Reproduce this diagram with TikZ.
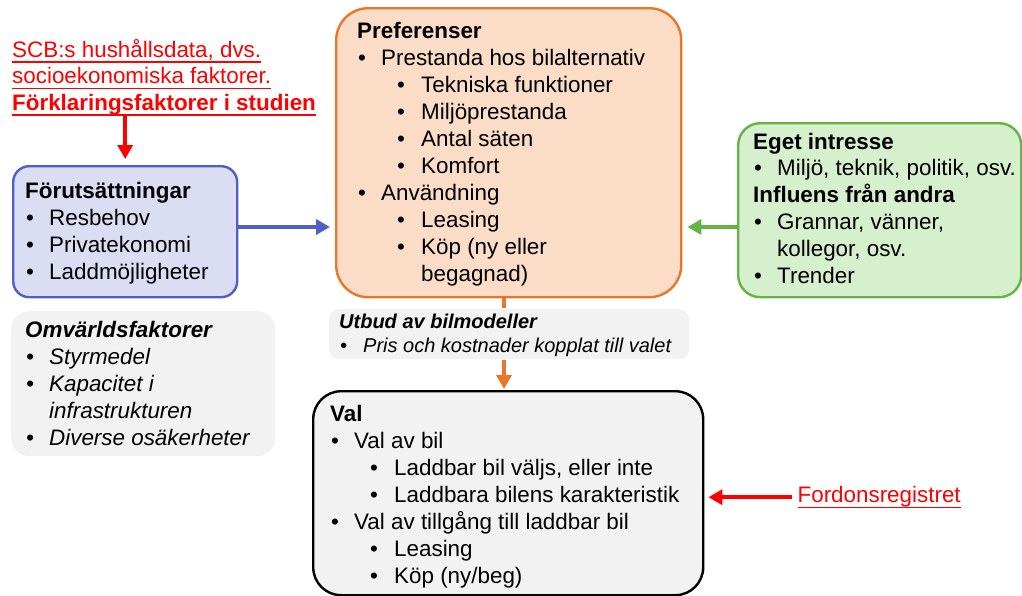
\documentclass[tikz,border=0pt]{standalone}
\usepackage{fontspec}
\setmainfont{Liberation Sans}
\usepackage{tikz}
\usetikzlibrary{arrows.meta}
\usetikzlibrary{positioning}
\definecolor{blaKant}{RGB}{80,94,200}
\definecolor{blaFyll}{RGB}{219,221,243}
\definecolor{orangeKant}{RGB}{236,118,40}
\definecolor{orangeFyll}{RGB}{250,220,199}
\definecolor{gronKant}{RGB}{98,180,68}
\definecolor{gronFyll}{RGB}{214,239,204}
\definecolor{gra}{RGB}{242,242,242}
\definecolor{rod}{RGB}{255,0,0}
% understrykning
\newsavebox{\ustrbox}
\newcommand{\ustr}[1]{\sbox{\ustrbox}{#1}\rlap{\rule[-5.5pt]{\wd\ustrbox}{1.4pt}}\usebox{\ustrbox}}
% punkter i listorna
\newcommand{\pkt}[1]{\makebox[24pt][l]{\hspace{1pt}\textbullet}#1}
\newcommand{\upkt}[1]{\hspace*{40pt}\makebox[24pt][l]{\textbullet}#1}
\tikzset{
  Ruta/.style={anchor=north west, inner sep=0pt, line width=2.4pt}, % för rutor
  Text/.style={anchor=base west, inner sep=0pt, align=left,
    font=\fontsize{22.4}{27}\selectfont}, % för texter, placerad vid sista raden
  KursivText/.style={Text, font=\fontsize{22.4}{27}\selectfont\itshape},
  LitenText/.style={Text, font=\fontsize{20}{24.5}\selectfont\itshape},
  Pil/.style={line width=4pt, ->, shorten >=#1} % för pilar
}

\begin{document}
\begin{tikzpicture}[x=1pt, y=-1pt,
>={Triangle[length=14pt,width=15pt]} % Pilspetsar
]
\useasboundingbox (0,0) rectangle (1022,595);

%Rutor
\node[Ruta, draw=blaKant, fill=blaFyll, rounded corners=16pt,
  minimum width=224pt, minimum height=131pt] (forut) at (12,165) {};
\node[Ruta, fill=gra, rounded corners=18pt,
  minimum width=264pt, minimum height=145pt] (omv) at (10,310) {};
\node[Ruta, draw=orangeKant, fill=orangeFyll, rounded corners=32pt,
  minimum width=345pt, minimum height=289pt] (pref) at (335,7) {};
\node[Ruta, draw=gronKant, fill=gronFyll, rounded corners=22pt,
  minimum width=283pt, minimum height=174pt] (intresse) at (737,122) {};
\node[Ruta, fill=gra, rounded corners=10pt,
  minimum width=360pt, minimum height=50pt] (utbud) at (328,308) {};
\node[Ruta, draw=black, fill=gra, rounded corners=28pt,
  minimum width=390pt, minimum height=204pt] (val) at (312,390) {};

%Texter
\node[Text, text=rod, font=\fontsize{22.4}{26.5}\selectfont] (scb) at (12,110)
  {\ustr{SCB:s hushållsdata, dvs.}\\
   \ustr{socioekonomiska faktorer.}\\
   \ustr{\textbf{Förklaringsfaktorer i studien}}};
\node[Text] (forut-txt) at (25,279)
  {\textbf{Förutsättningar}\\
   \pkt{Resbehov}\\
   \pkt{Privatekonomi}\\
   \pkt{Laddmöjligheter}};
\node[KursivText] (omv-txt) at (25,445)
  {\textbf{Omvärldsfaktorer}\\
   \pkt{Styrmedel}\\
   \pkt{Kapacitet i}\\
   \hspace*{24pt}infrastrukturen\\
   \pkt{Diverse osäkerheter}};
\node[Text] (pref-txt) at (357,281)
  {\textbf{Preferenser}\\
   \pkt{Prestanda hos bilalternativ}\\
   \upkt{Tekniska funktioner}\\
   \upkt{Miljöprestanda}\\
   \upkt{Antal säten}\\
   \upkt{Komfort}\\
   \pkt{Användning}\\
   \upkt{Leasing}\\
   \upkt{Köp (ny eller}\\
   \hspace*{64pt}begagnad)};
\node[Text, font=\fontsize{22.4}{26.8}\selectfont] (intresse-txt) at (753,283)
  {\textbf{Eget intresse}\\
   \pkt{Miljö, teknik, politik, osv.}\\
   \textbf{Influens från andra}\\
   \pkt{Grannar, vänner,}\\
   \hspace*{24pt}kollegor, osv.\\
   \pkt{Trender}};
\node[LitenText] (utbud-txt) at (339,352.5)
  {\textbf{Utbud av bilmodeller}\\
   \pkt{Pris och kostnader kopplat till valet}};
\node[Text] (val-txt) at (330,583)
  {\textbf{Val}\\
   \pkt{Val av bil}\\
   \upkt{Laddbar bil väljs, eller inte}\\
   \upkt{Laddbara bilens karakteristik}\\
   \pkt{Val av tillgång till laddbar bil}\\
   \upkt{Leasing}\\
   \upkt{Köp (ny/beg)}};
\node[Text, anchor=west, text=rod, right=93pt of val.east, yshift=-4pt]
  (ford) {\ustr{Fordonsregistret}};

%Pilar
\coordinate (pilrad) at (0,227);
\coordinate (pilkol) at (504,0);
\draw[Pil=6pt, rod] (scb.south -| forut.north) -- (forut.north);
\draw[Pil=5pt, blaKant] (forut.east |- pilrad) -- (pref.west |- pilrad);
\draw[Pil=5pt, gronKant] (intresse.west |- pilrad) -- (pref.east |- pilrad);
\draw[line width=4pt, orangeKant] (pilkol |- pref.south) -- (pilkol |- utbud.north);
\draw[Pil=1pt, orangeKant] (pilkol |- utbud.south) -- (pilkol |- val.north);
\draw[Pil=4pt, rod, shorten <=5pt] (ford.west) -- (ford.west -| val.east);

\end{tikzpicture}
\end{document}
